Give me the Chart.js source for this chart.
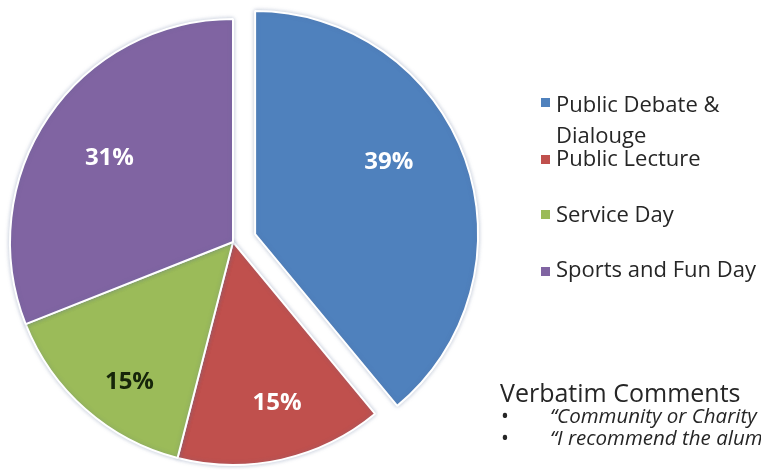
<!DOCTYPE html>
<html>
<head>
<meta charset="utf-8">
<script src="https://cdn.jsdelivr.net/npm/chart.js@4.4.0/dist/chart.umd.min.js"></script>
<style>
  html, body { margin: 0; padding: 0; background: #fff; overflow: hidden; }
  #wrap { position: relative; width: 761px; height: 470px; overflow: hidden;
          font-family: "Open Sans", sans-serif; color: #262626; }
  #pie { position: absolute; left: 0; top: 0; }
  .txt { position: absolute; white-space: nowrap; }
  .sw { position: absolute; width: 9px; height: 9px; }
  .lg { font-size: 22px; line-height: 22px; }
  .head { font-size: 25px; line-height: 25px; }
  .cm { font-size: 20.5px; line-height: 20px; font-style: italic; }
  .bl { font-size: 21px; line-height: 20px; }
</style>
</head>
<body>
<div id="wrap">
  <canvas id="pie" width="761" height="470"></canvas>
  <div id="legend"></div>
  <div id="notes"></div>
</div>
<script>
var activities = ['Public Debate & Dialouge', 'Public Lecture', 'Service Day', 'Sports and Fun Day'];
var shares = [39, 15, 15, 31];
var legendLines = [['Public Debate &', 'Dialouge'], ['Public Lecture'], ['Service Day'], ['Sports and Fun Day']];
var commentsTitle = 'Verbatim Comments';
var comments = ['\u201cCommunity or Charity', '\u201cI recommend the alumni'];

var sliceColors = ['#4f81bd', '#c0504d', '#9bbb59', '#8064a2'];
var labelColors = ['#ffffff', '#ffffff', '#17260a', '#ffffff'];
// how far (px) each slice is pulled out of the pie
var pushOut = [23.5, 0, 0, 0];
// where each % label sits: t = fraction along the slice, r = fraction of radius
var labelSpots = [{ t: 0.44, r: 0.68 }, { t: 0.45, r: 0.75 }, { t: 0.41, r: 0.78 }, { t: 0.50, r: 0.67 }];

function sliceShift(arc, i) {
    var half = (arc.startAngle + arc.endAngle) / 2;
    return { dx: Math.cos(half) * pushOut[i], dy: Math.sin(half) * pushOut[i] };
}

// draw the slices ourselves so the exploded one keeps its radius
var explodedPie = {
    id: 'explodedPie',
    beforeDatasetDraw: function (chart, args) {
        var ctx = chart.ctx;
        ctx.save();
        ctx.shadowColor = 'rgba(90,110,150,0.35)';
        ctx.shadowBlur = 4;
        args.meta.data.forEach(function (arc, i) {
            var s = sliceShift(arc, i);
            ctx.save();
            ctx.translate(s.dx, s.dy);
            arc.draw(ctx, chart.chartArea);
            ctx.restore();
        });
        ctx.restore();
        return false;
    }
};

// percent labels drawn inside the slices
var pctLabels = {
    id: 'pctLabels',
    afterDatasetsDraw: function (chart) {
        var ctx = chart.ctx;
        var meta = chart.getDatasetMeta(0);
        ctx.save();
        ctx.font = 'bold 24px "Open Sans"';
        ctx.textAlign = 'center';
        ctx.textBaseline = 'middle';
        meta.data.forEach(function (arc, i) {
            var a = arc.startAngle + labelSpots[i].t * (arc.endAngle - arc.startAngle);
            var r = labelSpots[i].r * arc.outerRadius;
            var s = sliceShift(arc, i);
            ctx.fillStyle = labelColors[i];
            ctx.fillText(shares[i] + '%', arc.x + Math.cos(a) * r + s.dx, arc.y + Math.sin(a) * r + s.dy);
        });
        ctx.restore();
    }
};

new Chart(document.getElementById('pie'), {
    type: 'pie',
    data: {
        labels: activities,
        datasets: [{
            data: shares,
            backgroundColor: sliceColors,
            borderColor: '#ffffff',
            borderWidth: 2,
            hoverOffset: 0
        }]
    },
    options: {
        responsive: false,
        animation: false,
        events: [],
        radius: 223,
        layout: { padding: { left: 0, right: 295, top: 14, bottom: 0 } },
        plugins: {
            legend: { display: false },
            tooltip: { enabled: false }
        }
    },
    plugins: [explodedPie, pctLabels]
});

// legend on the right
var legendTops = [[92, 123], [146], [202], [257]];
var swatchTops = [98, 155, 210, 267];
var legendHtml = '';
legendLines.forEach(function (lines, i) {
    legendHtml += '<div class="sw" style="left:541px;top:' + swatchTops[i] + 'px;background:' + sliceColors[i] + '"></div>';
    lines.forEach(function (t, j) {
        legendHtml += '<div class="txt lg" style="left:556px;top:' + legendTops[i][j] + 'px">' +
            t.replace('&', '&amp;') + '</div>';
    });
});
document.getElementById('legend').innerHTML = legendHtml;

// comments block, bottom right
var notesHtml = '<div class="txt head" style="left:500px;top:380px">' + commentsTitle + '</div>';
comments.forEach(function (c, i) {
    var top = 405 + i * 22;
    notesHtml += '<div class="txt bl" style="left:501px;top:' + top + 'px">\u2022</div>';
    notesHtml += '<div class="txt cm" style="left:550px;top:' + top + 'px">' + c + '</div>';
});
document.getElementById('notes').innerHTML = notesHtml;
</script>
</body>
</html>
